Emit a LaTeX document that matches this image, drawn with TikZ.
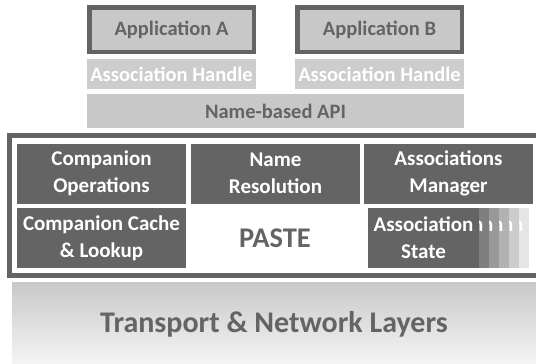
\documentclass[tikz,border=0pt]{standalone}
\usepackage{fontspec}
\setmainfont{Carlito}
\definecolor{cdark}{HTML}{646464}
\definecolor{clight}{HTML}{C8C8C8}
\definecolor{chandle}{HTML}{CDCDCD}
\definecolor{sA}{HTML}{7F7F7F}
\definecolor{sB}{HTML}{999999}
\definecolor{sC}{HTML}{B2B2B2}
\definecolor{sD}{HTML}{CCCCCC}
\definecolor{sE}{HTML}{E5E5E5}
\newcommand{\labfont}{\fontsize{20.5}{25}\selectfont\bfseries}
\newcommand{\cellfont}{\fontsize{21}{27}\selectfont\bfseries}
\newcommand{\pastefont}{\fontsize{28.5}{34}\selectfont\bfseries}
\newcommand{\bigfont}{\fontsize{30}{36}\selectfont\bfseries}
\begin{document}
\begin{tikzpicture}[x=1pt,y=-1pt,
  appbox/.style={draw=cdark, line width=4.5pt, fill=clight, text=cdark,
    font=\labfont, inner sep=0pt, outer sep=0pt,
    minimum width=164.5pt, minimum height=44.5pt},
  handle/.style={fill=chandle, text=white, font=\labfont, inner sep=0pt,
    outer sep=0pt, minimum width=169pt, minimum height=30pt},
  apibox/.style={fill=clight, text=cdark, font=\labfont, inner sep=0pt,
    outer sep=0pt, minimum width=377pt, minimum height=34pt},
  cell/.style={fill=cdark, text=white, font=\cellfont, align=center,
    inner sep=0pt, outer sep=0pt, minimum width=169pt, minimum height=60pt},
  statebox/.style={text=white, font=\cellfont, align=center,
    inner sep=0pt, outer sep=0pt, minimum width=111pt, minimum height=60pt},
  biglabel/.style={text=cdark, font=\bigfont, inner sep=0pt}]
\useasboundingbox (0,0) rectangle (536,364);
\clip (0,0) rectangle (536,364);

% applications and their handles
\node[appbox] (appA) at (171.5,29.5) {Application A};
\node[appbox] (appB) at (379.5,29.5) {Application B};
\node[handle] (hA) at (171.5,74) {Association Handle};
\node[handle] (hB) at (379.5,74) {Association Handle};
\node[apibox] (api) at (275.5,111) {Name-based API};

% PASTE frame
\draw[cdark, line width=5pt] (9.5,135.5) rectangle (545,275.5);

% upper row of modules
\node[cell] (cops) at (101.5,173.5) {Companion\\Operations};
\node[cell] (nres) at (275.5,173.5) {Name\\Resolution};
\node[cell] (amgr) at (448.5,173.5) {Associations\\Manager};

% lower row of modules
\node[cell] (cache) at (101.5,238) {Companion Cache\\\& Lookup};
\node[biglabel, font=\pastefont] (paste) at (275,238) {PASTE};

% stacked association states behind the front one, back to front;
% only a 10pt strip of each card shows
\foreach \k/\c in {5/sE,4/sD,3/sC,2/sB,1/sA}{
  \begin{scope}
    \clip (469+10*\k,208) rectangle (479+10*\k,268);
    \node[statebox, fill=\c] (st\k) at (423.5+10*\k,238) {Association\\State};
  \end{scope}
}
\node[statebox, fill=cdark] (state) at (423.5,238) {Association\\State};

% transport and network layers
\shade[top color=clight, bottom color=white!96!black] (12,282) rectangle (545,364);
\node[biglabel] (tnl) at (274,324) {Transport \& Network Layers};
\end{tikzpicture}
\end{document}
